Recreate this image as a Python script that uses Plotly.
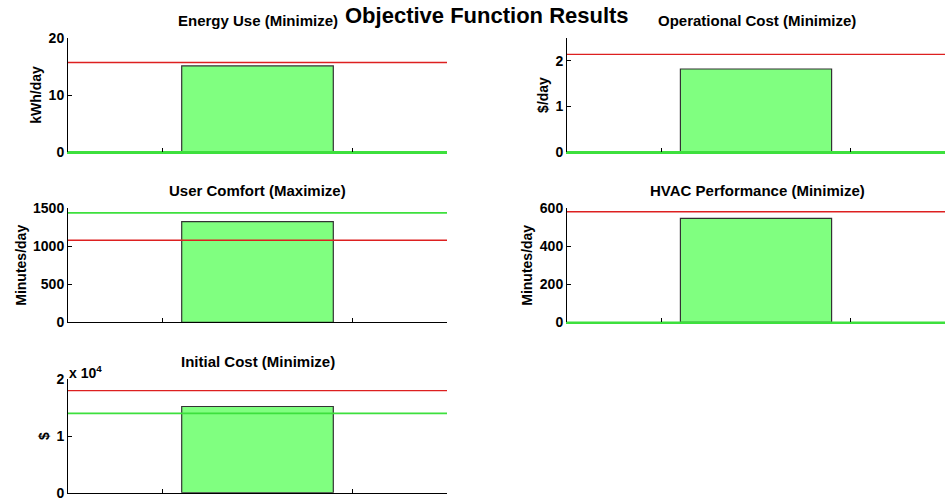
import plotly.graph_objects as go

# ---- data ----
titles = ["Energy Use (Minimize)", "Operational Cost (Minimize)",
          "User Comfort (Maximize)", "HVAC Performance (Minimize)",
          "Initial Cost (Minimize)"]
units = ["kWh/day", "$/day", "Minutes/day", "Minutes/day", "$"]
values = [15.1, 1.82, 1325, 547, 15200]
red_limits = [15.7, 2.14, 1080, 582, 18000]
green_targets = [0, 0, 1440, 0, 14000]
y_ranges = [[0, 20], [0, 2.5], [0, 1500], [0, 600], [0, 20000]]
y_ticks = [[0, 10, 20], [0, 1, 2], [0, 500, 1000, 1500], [0, 200, 400, 600], [0, 10000, 20000]]
y_ticktext = [["0", "10", "20"], ["0", "1", "2"], ["0", "500", "1000", "1500"],
              ["0", "200", "400", "600"], ["0", "1", "2"]]
bar_x = [1]
x_range = [0, 2]
x_ticks = [0.5, 1.5, 2]

# ---- layout geometry ----
W, H = 945, 502
col_dom = [[68 / W, 447 / W], [567 / W, 1.0]]
row_dom = [[1 - 152 / H, 1 - 38 / H], [1 - 322.3 / H, 1 - 208.3 / H], [1 - 492.7 / H, 1 - 379.3 / H]]
positions = [(0, 0), (0, 1), (1, 0), (1, 1), (2, 0)]

FONT = "Liberation Sans, Arial, sans-serif"
RED = "#dd2020"
GREEN = "#3de03d"

fig = go.Figure()
layout = dict(
    width=W, height=H,
    margin=dict(l=0, r=0, t=0, b=0, autoexpand=False),
    paper_bgcolor="white", plot_bgcolor="white",
    showlegend=False,
    font=dict(family=FONT, color="black"),
    annotations=[],
)

for i, (r, c) in enumerate(positions):
    n = i + 1
    xa = "x" if n == 1 else f"x{n}"
    ya = "y" if n == 1 else f"y{n}"
    fig.add_trace(go.Bar(
        x=bar_x, y=[values[i]], width=0.8,
        marker=dict(color="#80ff80", line=dict(color="#333333", width=1.2)),
        xaxis=xa, yaxis=ya, hoverinfo="skip",
    ))
    # green target line and red threshold line
    fig.add_trace(go.Scatter(
        x=x_range, y=[green_targets[i]] * 2, mode="lines",
        line=dict(color=GREEN, width=1.8), xaxis=xa, yaxis=ya,
    ))
    fig.add_trace(go.Scatter(
        x=x_range, y=[red_limits[i]] * 2, mode="lines",
        line=dict(color=RED, width=1.4), xaxis=xa, yaxis=ya,
    ))
    target_on_axis = green_targets[i] == y_ranges[i][0]
    layout[f"xaxis{'' if n == 1 else n}"] = dict(
        domain=col_dom[c], anchor=ya, range=x_range, automargin=False,
        tickvals=x_ticks, ticktext=["", "", ""], ticks="inside", ticklen=4,
        tickcolor="black", showline=True,
        linecolor=GREEN if target_on_axis else "black",
        linewidth=2 if target_on_axis else 1,
        showgrid=False, zeroline=False, fixedrange=True,
    )
    layout[f"yaxis{'' if n == 1 else n}"] = dict(
        domain=row_dom[r], anchor=xa, range=y_ranges[i], automargin=False,
        tickvals=y_ticks[i], ticktext=y_ticktext[i], ticks="inside", ticklen=4,
        tickcolor="black", showline=True, linecolor="black", linewidth=1,
        showgrid=False, zeroline=False, fixedrange=True,
        tickfont=dict(family=FONT, size=14, color="black", weight="bold"),
        title=dict(text=f"<b>{units[i]}</b>", font=dict(family=FONT, size=14), standoff=3),
    )
    # subplot title
    xc = (col_dom[c][0] + col_dom[c][1]) / 2 if c == 0 else (567 + 947) / 2 / W
    layout["annotations"].append(dict(
        text=f"<b>{titles[i]}</b>", x=xc, y=row_dom[r][1], xref="paper", yref="paper",
        xanchor="center", yanchor="bottom", yshift=7, showarrow=False,
        font=dict(family=FONT, size=15, color="black"),
    ))

# exponent label for initial cost
layout["annotations"].append(dict(
    text="<b>x 10<sup>4</sup></b>", x=col_dom[0][0], y=row_dom[2][1], xref="paper", yref="paper",
    xanchor="left", yanchor="bottom", xshift=-1, yshift=-4, showarrow=False,
    font=dict(family=FONT, size=14, color="black"),
))
# main title
layout["annotations"].append(dict(
    text="<b>Objective Function Results</b>", x=487 / W, y=1 - 16 / H, xref="paper", yref="paper",
    xanchor="center", yanchor="middle", showarrow=False,
    font=dict(family=FONT, size=22, color="black"),
))

fig.update_layout(**layout)
fig.write_html("out.html", config={"displayModeBar": False},
               post_script="document.body.style.margin='0px';")
